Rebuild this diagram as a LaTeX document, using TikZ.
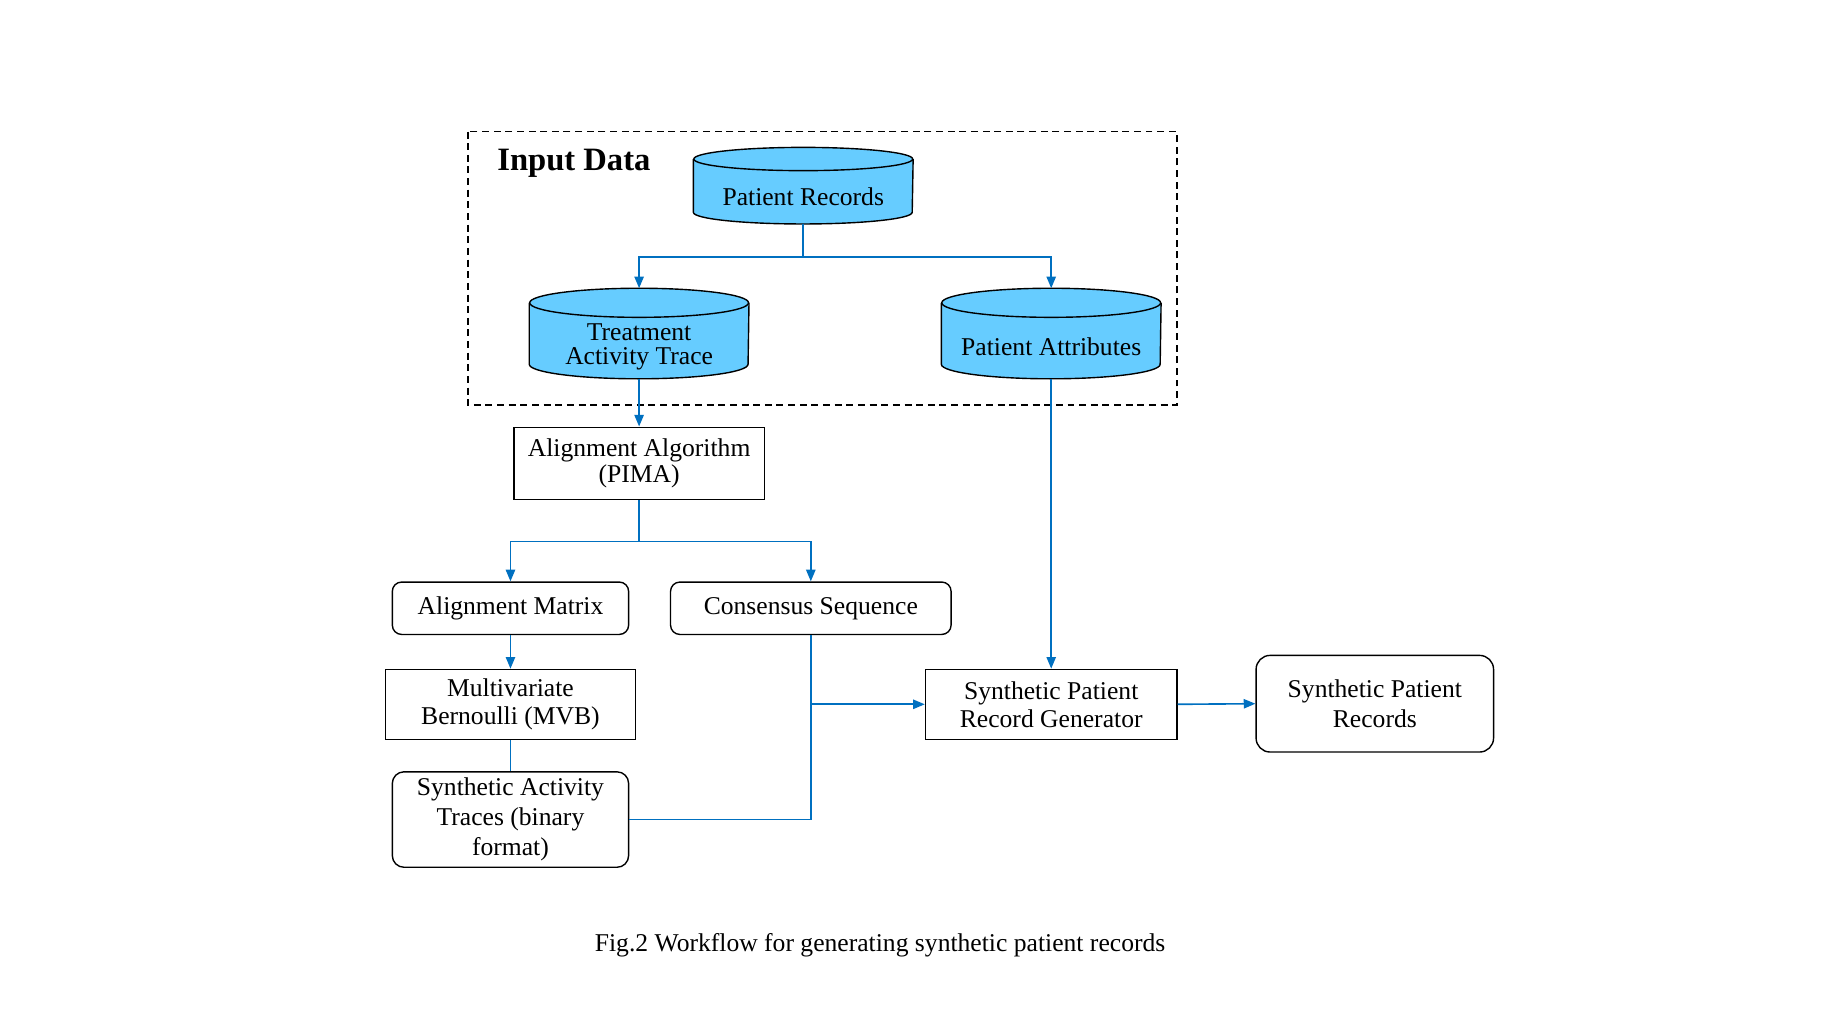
\documentclass[tikz,border=0pt]{standalone}
\usepackage{fontspec}
\setmainfont{Liberation Serif}
\usetikzlibrary{arrows.meta,calc,backgrounds}
\definecolor{conblue}{RGB}{0,112,192}
\definecolor{cylblue}{RGB}{102,204,255}
\newcommand\drawcyl[2]{%
  \fill[cylblue] ($(#1.north west)+(0,-#2)$) -- ($(#1.south west)+(0,#2)$)
     arc[start angle=180,end angle=360,x radius=47pt,y radius=#2]
     -- ($(#1.north east)+(0,-#2)$)
     arc[start angle=0,end angle=180,x radius=47pt,y radius=#2] -- cycle;
  \draw[line width=0.6pt] ($(#1.north)+(0,-#2)$) ellipse[x radius=47pt,y radius=#2];
  \draw[line width=0.6pt] ($(#1.north west)+(0,-#2)$) -- ($(#1.south west)+(0,#2)$)
     arc[start angle=180,end angle=360,x radius=47pt,y radius=#2]
     -- ($(#1.north east)+(0,-#2)$);
}
\begin{document}
\begin{tikzpicture}[x=0.5pt,y=-0.5pt,
  txt/.style={font=\fontsize{11pt}{12pt}\selectfont, align=center},
  boxsq/.style={txt, draw, line width=0.6pt, inner sep=0pt},
  boxrd/.style={boxsq, rounded corners=4pt},
  conn/.style={draw=conblue, line width=0.7pt},
  arr/.style={conn, -{Triangle[length=5pt,width=4pt]}},
  cylnode/.style={minimum width=94pt, inner sep=0pt},
]
\useasboundingbox (0,0) rectangle (1566,866);

% input data frame
\draw[line width=0.6pt, dash pattern=on 3pt off 2pt] (402,113) rectangle (1011,348);
\node[font=\fontsize{14pt}{16pt}\selectfont\bfseries] (title) at (493,140) {Input Data};

% cylinders
\node[cylnode, minimum height=32.5pt,
  label={[txt, yshift=-4.75pt]center:{Patient Records}}] (pr) at (690,159.5) {};
\node[cylnode, minimum height=38.5pt,
  label={[txt, font=\fontsize{11pt}{10pt}\selectfont, yshift=-5.75pt]center:{Treatment\\Activity Trace}}] (tat) at (549,286.5) {};
\node[cylnode, minimum height=38.5pt,
  label={[txt, yshift=-5.75pt]center:{Patient Attributes}}] (pa) at (903,286.5) {};

\begin{scope}[on background layer]
  \drawcyl{pr}{5pt}
  \drawcyl{tat}{6.25pt}
  \drawcyl{pa}{6.25pt}
\end{scope}

% boxes
\node[boxsq, minimum width=107.5pt, minimum height=31pt, font=\fontsize{11pt}{11.5pt}\selectfont] (aa) at (549,398) {Alignment Algorithm\\(PIMA)};
\node[boxrd, minimum width=101.5pt, minimum height=22.5pt] (am) at (438.5,522.5) {Alignment Matrix};
\node[boxrd, minimum width=120.5pt, minimum height=22.5pt] (cs) at (696.5,522.5) {Consensus Sequence};
\node[boxsq, minimum width=107.5pt, minimum height=30pt] (mvb) at (438.5,605) {Multivariate\\Bernoulli (MVB)};
\node[boxrd, rounded corners=5pt, minimum width=101.5pt, minimum height=41pt, font=\fontsize{11pt}{13pt}\selectfont] (sat) at (438.5,704) {Synthetic Activity\\Traces (binary\\format)};
\node[boxsq, minimum width=108pt, minimum height=30pt] (sprg) at (903,605) {Synthetic Patient\\Record Generator};
\node[boxrd, rounded corners=6pt, minimum width=102pt, minimum height=41.5pt, font=\fontsize{11pt}{13pt}\selectfont] (spr) at (1181,604.5) {Synthetic Patient\\Records};

% caption
\node[txt] (cap) at (756,812) {Fig.2 Workflow for generating synthetic patient records};

% connectors
\coordinate (j1) at (690,221);
\draw[conn] (pr.south) -- (j1);
\draw[arr] (j1) -| (tat.north);
\draw[arr] (j1) -| (pa.north);
\draw[arr] (tat.south) -- (aa.north);
\coordinate (j2) at (549,465);
\draw[conn] (aa.south) -- (j2);
\draw[arr] (j2) -| (am.north);
\draw[arr] (j2) -| (cs.north);
\draw[arr] (am.south) -- (mvb.north);
\draw[conn] (mvb.south) -- (sat.north);
\draw[conn] (cs.south) |- (sat.east);
\coordinate (j3) at (cs.south |- sprg.west);
\draw[arr] (j3) -- (sprg.west);
\draw[arr] (pa.south) -- (sprg.north);
\draw[arr] (sprg.east) -- (spr.west);
\end{tikzpicture}
\end{document}
